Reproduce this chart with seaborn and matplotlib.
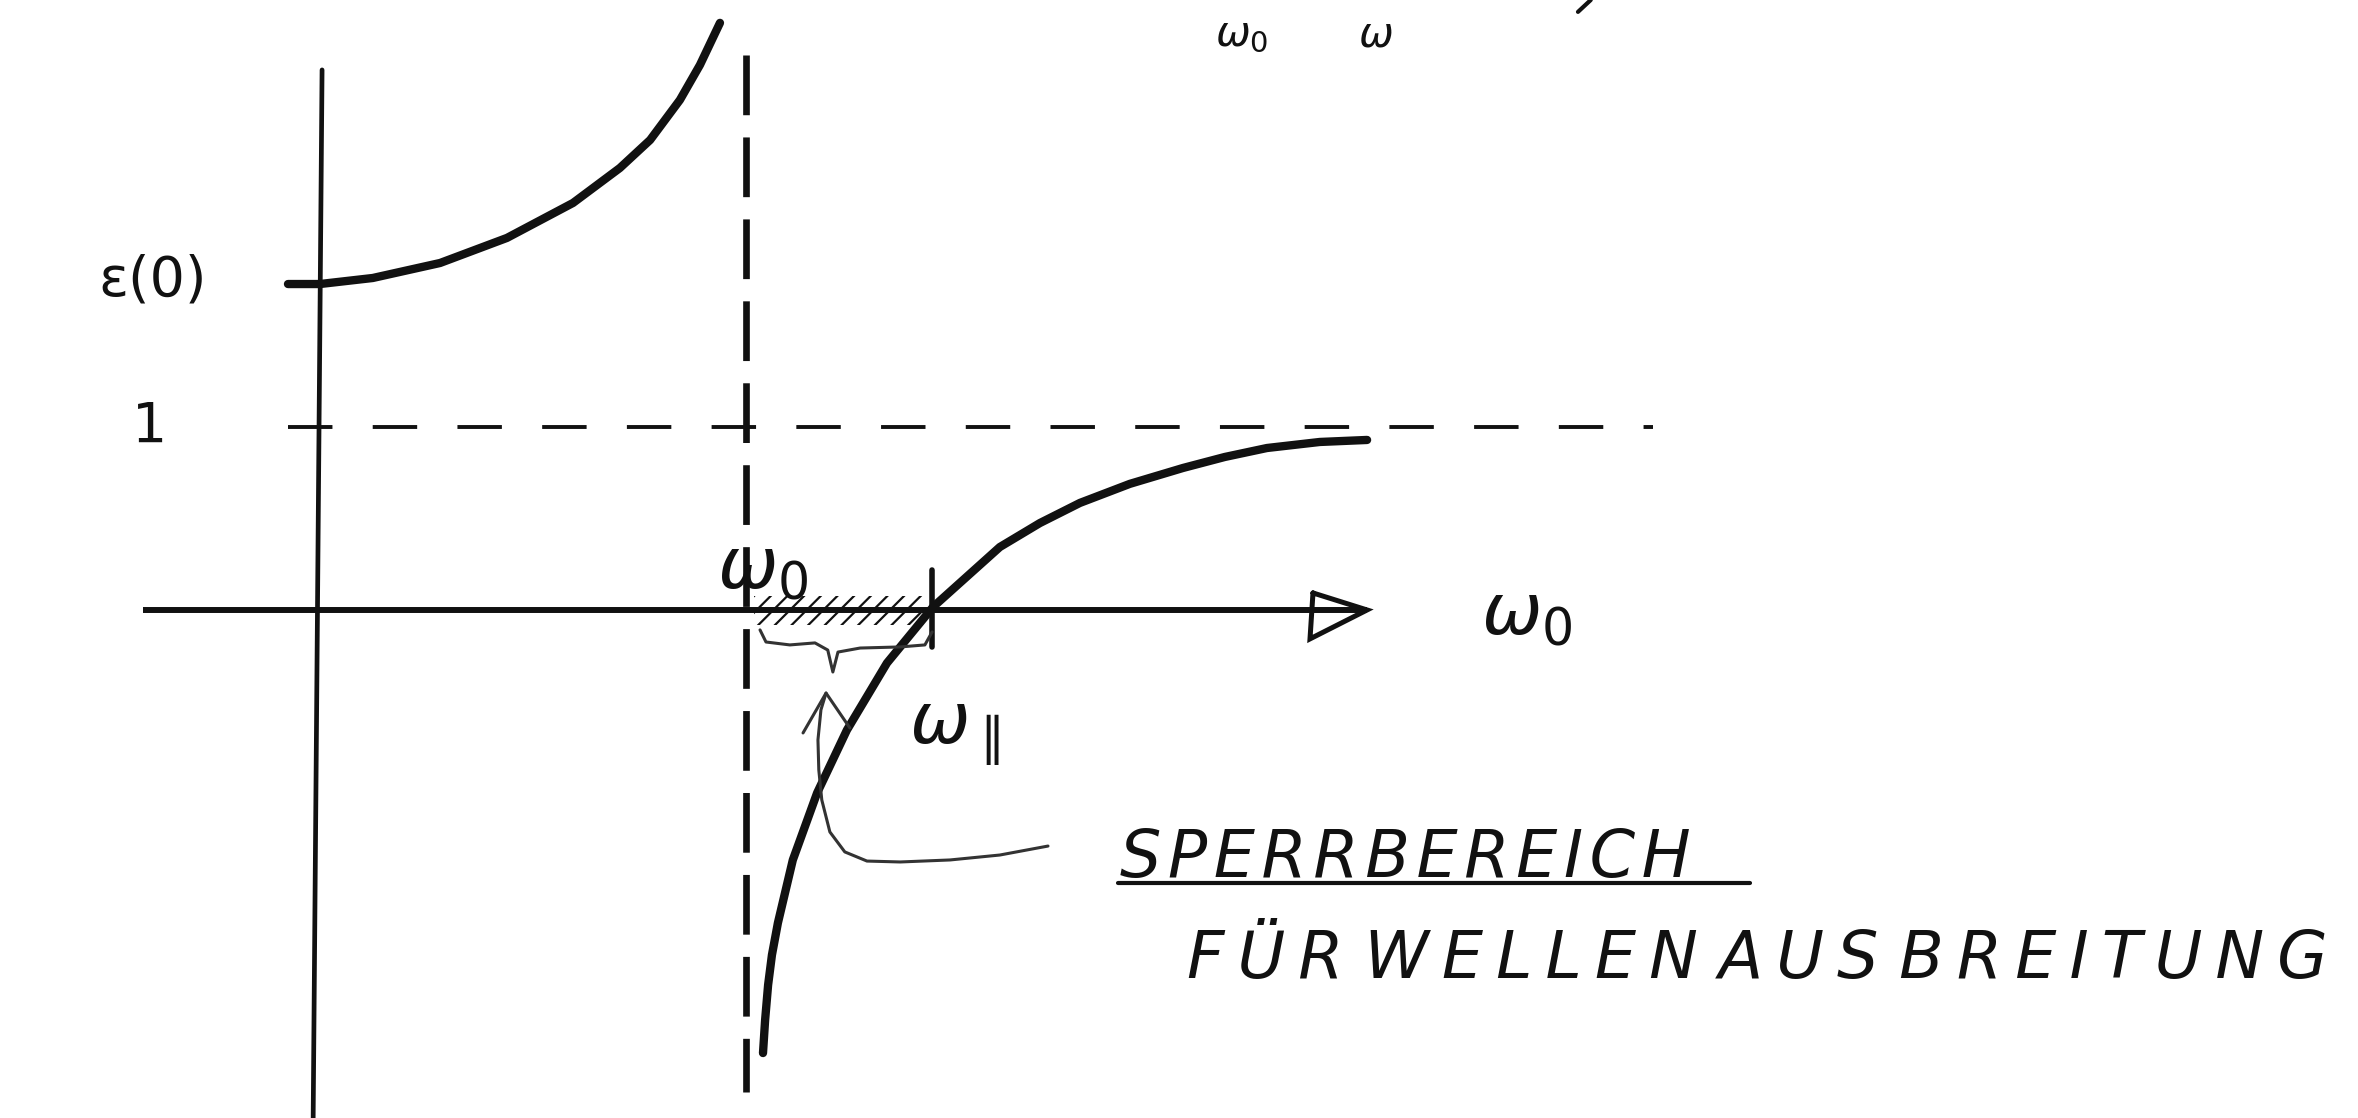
import matplotlib
matplotlib.use("Agg")
import matplotlib.pyplot as plt
import seaborn as sns
import pandas as pd

# ---- dielectric function eps(omega), omega in units of omega_0 ----
# branch below the resonance
omega_low = [-0.075, 0.0, 0.124, 0.282, 0.439, 0.594, 0.704, 0.775, 0.845, 0.892, 0.939]
eps_low = [1.781, 1.781, 1.814, 1.896, 2.033, 2.224, 2.415, 2.568, 2.787, 2.978, 3.208]

# branch above the resonance
omega_high = [1.040, 1.045, 1.052, 1.061, 1.075, 1.110, 1.167, 1.237, 1.331, 1.439,
              1.596, 1.690, 1.784, 1.901, 2.026, 2.124, 2.223, 2.347, 2.458]
eps_high = [-2.421, -2.240, -2.049, -1.885, -1.710, -1.366, -1.000, -0.656, -0.290, 0.016,
            0.344, 0.475, 0.585, 0.689, 0.776, 0.836, 0.885, 0.918, 0.929]

# characteristic values
omega_0 = 1.0
omega_par = 1.437
eps_static = 1.781
eps_inf = 1.0

# axis extents
x_axis_span = [-0.415, 2.458]
y_axis_x = [0.005, -0.016]
y_axis_y = [2.951, -2.80]
res_line_span = [3.033, -2.634]
eps_inf_span = [-0.075, 3.13]

# arrow head of the omega axis (open triangle)
head_x = [2.331, 2.458, 2.324, 2.331]
head_y = [0.093, 0.0, -0.158, 0.093]

# brace below the stop band
brace_x = [1.033, 1.047, 1.103, 1.162, 1.192, 1.204, 1.216, 1.268, 1.362, 1.420, 1.437]
brace_y = [-0.109, -0.175, -0.191, -0.180, -0.219, -0.339, -0.230, -0.208, -0.202, -0.191, -0.120]

# pointer from the caption to the stop band
pointer_x = [1.709, 1.596, 1.479, 1.362, 1.284, 1.232, 1.197, 1.178, 1.171, 1.169, 1.176, 1.188]
pointer_y = [-1.290, -1.339, -1.366, -1.377, -1.372, -1.322, -1.213, -1.038, -0.874, -0.710, -0.546, -0.454]
pointer_head_x = [1.134, 1.188, 1.244]
pointer_head_y = [-0.672, -0.454, -0.645]

# stroke at the top margin
top_mark_x = [2.983, 2.953]
top_mark_y = [3.333, 3.268]

caption_1 = "SPERRBEREICH"
caption_2 = "FÜR WELLEN AUS BREITUNG"


def spaced(text, gap):
    # widen the lettering: small space between the letters of each word
    return " ".join(gap.join(word) for word in text.split(" "))


sns.set_theme(style="white")
plt.rcParams["font.family"] = ["DejaVu Sans"]
plt.rcParams["lines.scale_dashes"] = False
plt.rcParams["hatch.linewidth"] = 1.6
plt.rcParams["mathtext.fontset"] = "dejavusans"

ink = "#111111"
pencil = "#333333"

fig = plt.figure(figsize=(23.58, 11.18), dpi=100)
ax = fig.add_axes([0, 0, 1, 1])
ax.set_xlim(-0.751, 4.784)
ax.set_ylim(-2.776, 3.333)
ax.set_axis_off()

low = pd.DataFrame({"omega": omega_low, "eps": eps_low})
high = pd.DataFrame({"omega": omega_high, "eps": eps_high})
for df in (low, high):
    sns.lineplot(data=df, x="omega", y="eps", sort=False, estimator=None,
                 color=ink, lw=6.0, ax=ax, solid_capstyle="round",
                 solid_joinstyle="round")

# coordinate axes
ax.plot(x_axis_span, [0, 0], color=ink, lw=4.3, solid_capstyle="butt")
ax.plot(head_x, head_y, color=ink, lw=3.6, solid_joinstyle="miter")
ax.plot(y_axis_x, y_axis_y, color=ink, lw=3.4)

# resonance line and eps_inf level
ax.plot([omega_0, omega_0], res_line_span, color=ink, lw=4.8,
        dashes=(43, 16), solid_capstyle="round")
ax.plot(eps_inf_span, [eps_inf, eps_inf], color=ink, lw=2.8, dashes=(32, 29))

# stop band between omega_0 and omega_par
ax.fill_between([omega_0 + 0.02, omega_par - 0.02], -0.08, 0.075,
                facecolor="none", edgecolor=ink, hatch="//", lw=0)
ax.plot([omega_par, omega_par], [0.219, -0.202], color=ink, lw=4.0)
ax.plot(brace_x, brace_y, color=pencil, lw=2.2)
ax.plot(pointer_x, pointer_y, color=pencil, lw=2.2)
ax.plot(pointer_head_x, pointer_head_y, color=pencil, lw=2.2)
ax.plot(top_mark_x, top_mark_y, color=ink, lw=3.0)

# labels
ax.text(-0.265, 1.80, "ε(0)", ha="right", va="center", fontsize=40, color=ink)
ax.text(-0.40, eps_inf, "1", ha="center", va="center", fontsize=40, color=ink)
ax.text(1.04, 0.22, r"$\omega_0$", ha="center", va="center", fontsize=52, color=ink)
ax.text(2.833, -0.03, r"$\omega_0$", ha="center", va="center", fontsize=52, color=ink)
ax.text(1.49, -0.68, r"$\omega_{\parallel}$", ha="center", va="center",
        fontsize=52, color=ink)
ax.text(2.101, 3.08, r"$\omega_0$", ha="left", va="baseline", fontsize=30, color=ink)
ax.text(2.437, 3.08, r"$\omega$", ha="left", va="baseline", fontsize=30, color=ink)

ax.text(1.878, -1.459, spaced(caption_1, "\u200a"), ha="left", va="baseline",
        fontsize=47, fontstyle="italic", color=ink)
ax.plot([1.873, 3.357], [-1.492, -1.492], color=ink, lw=3.0)
ax.text(2.035, -2.011, spaced(caption_2, "\u2009"), ha="left", va="baseline",
        fontsize=47, fontstyle="italic", color=ink)

fig.savefig("out.png", dpi=100, facecolor="white")
